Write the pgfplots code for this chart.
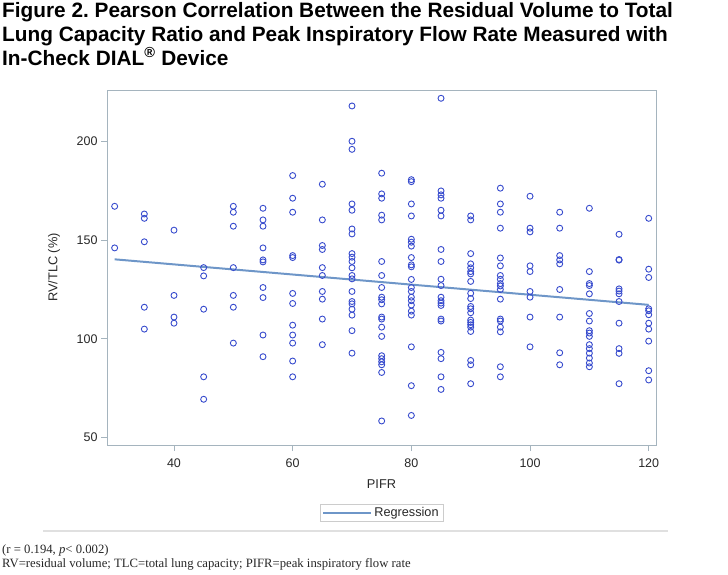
\documentclass[border=0pt]{standalone}
\usepackage{fontspec}
\setmainfont{Liberation Serif}
\setsansfont{Liberation Sans}
\usepackage{pgfplots}
\pgfplotsset{compat=1.18}

\definecolor{markcol}{RGB}{55,75,205}
\definecolor{regcol}{RGB}{110,150,200}
\definecolor{framecol}{RGB}{165,180,190}
\definecolor{ticktext}{RGB}{40,40,40}

\pgfplotstableread{
x y
30 167.2
30 146.1
35 163.3
35 161.1
35 149.2
35 116.0
35 104.9
40 155.1
40 122.0
40 111.0
40 107.9
45 136.1
45 131.9
45 115.0
45 80.7
45 69.3
50 167.2
50 164.2
50 157.1
50 136.1
50 122.0
50 116.0
50 97.8
55 166.2
55 160.3
55 157.1
55 146.1
55 140.0
55 139.0
55 126.0
55 120.9
55 101.9
55 90.9
60 182.8
60 171.3
60 164.2
60 142.2
60 141.2
60 123.0
60 117.9
60 106.9
60 101.9
60 97.8
60 88.7
60 80.7
65 178.4
65 160.3
65 147.3
65 145.3
65 136.1
65 132.1
65 124.0
65 120.1
65 110.0
65 97.0
70 218.1
70 200.2
70 196.1
70 168.4
70 165.2
70 155.7
70 153.2
70 143.2
70 141.4
70 139.2
70 136.0
70 132.1
70 130.4
70 124.0
70 118.9
70 117.7
70 115.0
70 112.0
70 104.1
70 92.7
75 184.0
75 173.5
75 171.3
75 162.7
75 160.3
75 139.2
75 132.1
75 126.0
75 121.1
75 119.8
75 117.7
75 111.0
75 110.0
75 105.9
75 101.2
75 91.4
75 89.9
75 88.3
75 86.8
75 82.9
75 58.3
80 180.7
80 179.7
80 168.4
80 162.3
80 150.5
80 149.0
80 147.0
80 141.2
80 137.5
80 136.5
80 130.1
80 126.0
80 124.0
80 121.1
80 119.3
80 117.1
80 114.0
80 112.0
80 95.9
80 76.2
80 61.1
85 222.0
85 175.0
85 173.0
85 171.3
85 165.2
85 162.3
85 145.3
85 139.2
85 130.2
85 127.0
85 121.1
85 119.3
85 118.1
85 116.9
85 110.0
85 109.0
85 93.1
85 89.9
85 80.7
85 74.3
90 162.3
90 160.3
90 143.2
90 138.0
90 136.0
90 134.1
90 132.9
90 129.1
90 123.1
90 120.4
90 116.4
90 115.2
90 113.2
90 109.5
90 108.3
90 107.1
90 105.9
90 103.7
90 89.0
90 86.8
90 77.2
95 176.4
95 168.4
95 164.2
95 156.1
95 141.0
95 137.0
95 132.1
95 130.2
95 128.0
95 126.8
95 125.0
95 120.1
95 110.0
95 109.0
95 105.9
95 103.5
95 85.8
95 80.7
100 172.3
100 156.1
100 154.2
100 137.0
100 134.1
100 124.0
100 121.1
100 111.0
100 95.9
105 164.2
105 156.1
105 142.2
105 140.0
105 138.0
105 125.0
105 111.0
105 92.9
105 86.8
110 166.2
110 134.1
110 128.0
110 127.0
110 122.8
110 112.8
110 109.0
110 104.1
110 102.9
110 101.2
110 97.0
110 95.0
110 92.7
110 90.2
110 87.7
110 85.8
115 153.0
115 140.2
115 139.9
115 125.3
115 124.2
115 122.8
115 118.9
115 107.9
115 95.0
115 92.6
115 77.2
120 161.1
120 135.3
120 131.1
120 115.2
120 114.2
120 112.2
120 107.9
120 104.9
120 98.8
120 83.8
120 79.1
}\pifrdata

\begin{document}
\frenchspacing
\begin{tikzpicture}[x=1pt,y=1pt]
\useasboundingbox (0,0) rectangle (728,-574);

% title
\begin{scope}[every node/.style={anchor=base west, inner sep=0pt,
    font=\sffamily\bfseries\fontsize{20.8}{24}\selectfont}]
\node at (2,-17) {Figure 2. Pearson Correlation Between the Residual Volume to Total};
\node at (2,-41) {Lung Capacity Ratio and Peak Inspiratory Flow Rate Measured with};
\node at (2,-65) {In-Check DIAL\textsuperscript{\textregistered} Device};
\end{scope}

\begin{axis}[
    at={(107pt,-445pt)}, anchor=south west,
    scale only axis, width=549pt, height=355pt,
    xmin=28.71, xmax=121.23,
    ymin=46.1, ymax=226.2,
    xtick={40,60,80,100,120},
    ytick={50,100,150,200},
    tick pos=left,
    tick align=outside,
    major tick length=6pt,
    axis line style={draw=framecol, line width=0.8pt},
    tick style={draw=framecol, line width=0.8pt},
    /pgf/number format/assume math mode=true,
    ticklabel style={font=\sffamily\fontsize{12.5}{14}\selectfont, text=ticktext},
    xticklabel style={yshift=-4pt},
    xlabel={PIFR},
    ylabel={RV/TLC (\%)},
    label style={font=\sffamily\fontsize{12.8}{14}\selectfont, text=ticktext},
    xlabel style={at={(axis description cs:0.5,-0.1099)}, anchor=center},
    ylabel style={at={(axis description cs:-0.0965,0.5)}, anchor=center},
    legend style={at={(axis description cs:0.5,-0.1662)}, anchor=north,
        draw=black!20, inner xsep=2.5pt, inner ysep=1pt,
        font=\sffamily\fontsize{12.7}{14}\selectfont, text=ticktext},
    legend image code/.code={\draw[#1] (0pt,0pt) -- (48pt,0pt);},
    clip=false,
]
\addplot[only marks, mark=o, mark size=3pt, draw=markcol,
    mark options={line width=0.9pt}, forget plot] table[x=x, y=y] {\pifrdata};
\addplot[regcol, line width=2pt] coordinates {(30,140.3) (120,117.2)};
\addlegendentry{Regression}
\end{axis}

\draw[black!12, line width=1.5pt] (43,-531) -- (668,-531);

\begin{scope}[every node/.style={anchor=base west, inner sep=0pt,
    font=\fontsize{12.7}{14}\selectfont, text=black!85}]
\node at (2,-553) {(r = 0.194, \textit{p}< 0.002)};
\node at (2,-567) {RV=residual volume; TLC=total lung capacity; PIFR=peak inspiratory flow rate};
\end{scope}
\end{tikzpicture}
\end{document}
